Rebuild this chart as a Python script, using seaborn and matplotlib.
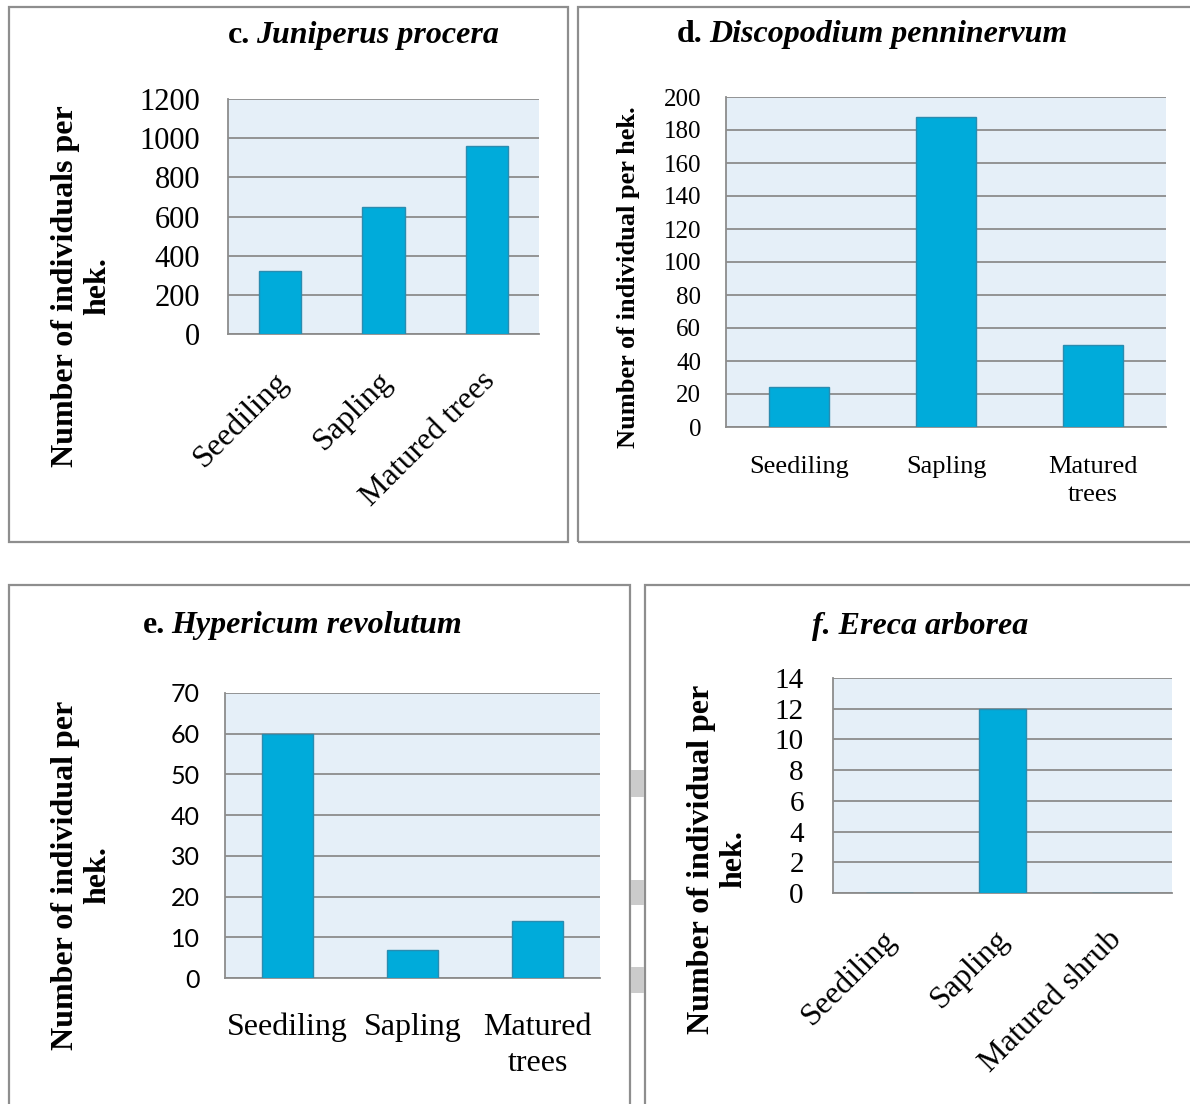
import matplotlib
matplotlib.use("Agg")
import matplotlib.pyplot as plt
import matplotlib.transforms as mt
import seaborn as sns
from matplotlib.patches import Rectangle

# ---- data -------------------------------------------------------------
stages_tree = ["Seediling", "Sapling", "Matured trees"]
stages_shrub = ["Seediling", "Sapling", "Matured shrub"]

juniperus_procera = [320, 650, 960]
discopodium_penninervum = [24, 188, 50]
hypericum_revolutum = [60, 7, 14]
ereca_arborea = [0, 12, 0]

# ---- styling ----------------------------------------------------------
W, H = 1190, 1104
SERIF = ["Liberation Serif", "DejaVu Serif"]
SANS = ["Lato", "DejaVu Sans"]
BAR = "#00ABDA"
BAR_EDGE = "#2A8CB0"
PLOT_BG = "#E5EFF8"
GRID = "#8C8C8C"
FRAME = "#8E8E8E"

fig = plt.figure(figsize=(W / 100, H / 100), dpi=100)
fig.patch.set_facecolor("white")


def fx(x):
    return x / W


def fy(y):
    return 1 - y / H


def add_axes_px(x0, y0, x1, y1):
    return fig.add_axes([fx(x0), fy(y1), (x1 - x0) / W, (y1 - y0) / H])


def frame_px(x0, y0, x1, y1):
    fig.add_artist(Rectangle((fx(x0), fy(y1)), (x1 - x0) / W, (y1 - y0) / H,
                             transform=fig.transFigure, fill=False,
                             edgecolor=FRAME, linewidth=1.6, zorder=0))


def draw_panel(rect, cats, values, ymax, ystep, ytick_font, ytick_size, ypad,
               xlabels, xsize, xrot, xpad, xdx=0):
    ax = add_axes_px(*rect)
    sns.barplot(x=cats, y=values, ax=ax, color=BAR, saturation=1,
                edgecolor=BAR_EDGE, linewidth=1.0, width=0.41, zorder=3)
    ax.set_facecolor(PLOT_BG)
    ax.set_ylim(0, ymax)
    ax.set_xlim(-0.5, 2.5)
    ticks = list(range(0, ymax + 1, ystep))
    ax.set_yticks(ticks)
    ax.set_yticklabels([str(t) for t in ticks], family=ytick_font,
                       fontsize=ytick_size)
    ax.yaxis.grid(True, color=GRID, linewidth=1.3, zorder=1)
    ax.xaxis.grid(False)
    ax.set_axisbelow(True)
    for side in ("top", "right"):
        ax.spines[side].set_visible(False)
    for side in ("left", "bottom"):
        ax.spines[side].set_color(GRID)
        ax.spines[side].set_linewidth(1.3)
    ax.tick_params(axis="y", length=0, pad=ypad)
    ax.tick_params(axis="x", length=0, pad=xpad)
    ax.set_xlabel("")
    ax.set_ylabel("")
    ax.set_xticks(range(len(cats)))
    if xrot:
        labs = ax.set_xticklabels(xlabels, family=SERIF, fontsize=xsize,
                                  rotation=45, ha="right", va="center",
                                  rotation_mode="anchor")
        off = mt.ScaledTranslation(xdx / 100, 0, fig.dpi_scale_trans)
        for t in labs:
            t.set_transform(t.get_transform() + off)
    else:
        ax.set_xticklabels(xlabels, family=SERIF, fontsize=xsize,
                           linespacing=1.35)
    return ax


def ylabel_px(x, y, text, size):
    fig.text(fx(x), fy(y), text, rotation=90, ha="center", va="center",
             family=SERIF, fontweight="bold", fontsize=size,
             multialignment="center", linespacing=1.15)


def title_px(x_split, y_base, prefix, name, size=23):
    if prefix:
        fig.text(fx(x_split - 3), fy(y_base), prefix, ha="right",
                 va="baseline", family=SERIF, fontweight="bold", fontsize=size)
    fig.text(fx(x_split + 3), fy(y_base), name, ha="left", va="baseline",
             family=SERIF, fontweight="bold", style="italic", fontsize=size)


# ---- panel frames -----------------------------------------------------
frame_px(9, 7, 568, 542)
frame_px(578, 7, 1200, 542)
frame_px(9, 585, 630, 1120)
frame_px(645, 585, 1200, 1120)

# faint grey tabs between the lower frames
for y0, y1 in [(770, 797), (880, 905), (967, 993)]:
    fig.add_artist(Rectangle((fx(631), fy(y1)), 13 / W, (y1 - y0) / H,
                             transform=fig.transFigure, facecolor="#CBCBCB",
                             edgecolor="none", zorder=0))

# ---- c. Juniperus procera ---------------------------------------------
draw_panel((228, 99, 539, 334), stages_tree, juniperus_procera, 1200, 200,
           SERIF, 22, 20, stages_tree, 23, True, 31, xdx=4)
title_px(253, 43, "c.", "Juniperus procera")
ylabel_px(82, 286, "Number of individuals per\nhek.", 23)

# ---- d. Discopodium penninervum ---------------------------------------
draw_panel((726, 97, 1166, 427), stages_tree, discopodium_penninervum, 200, 20,
           SERIF, 18, 18, ["Seediling", "Sapling", "Matured\ntrees"], 19,
           False, 21)
title_px(706, 42, "d.", "Discopodium penninervum")
ylabel_px(628, 277, "Number of individual per hek.", 19)

# ---- e. Hypericum revolutum -------------------------------------------
draw_panel((225, 693, 600, 978), stages_tree, hypericum_revolutum, 70, 10,
           SANS, 18, 18, ["Seediling", "Sapling", "Matured\ntrees"], 23,
           False, 25)
title_px(168, 633, "e.", "Hypericum revolutum")
ylabel_px(82, 875, "Number of individual per\nhek.", 23)

# ---- f. Ereca arborea -------------------------------------------------
draw_panel((833, 678, 1172, 893), stages_shrub, ereca_arborea, 14, 2,
           SERIF, 21, 21, stages_shrub, 23, True, 30, xdx=2)
title_px(809, 634, "", "f. Ereca arborea")
ylabel_px(718, 859, "Number of individual per\nhek.", 23)

fig.savefig("out.png", dpi=100, facecolor="white")
